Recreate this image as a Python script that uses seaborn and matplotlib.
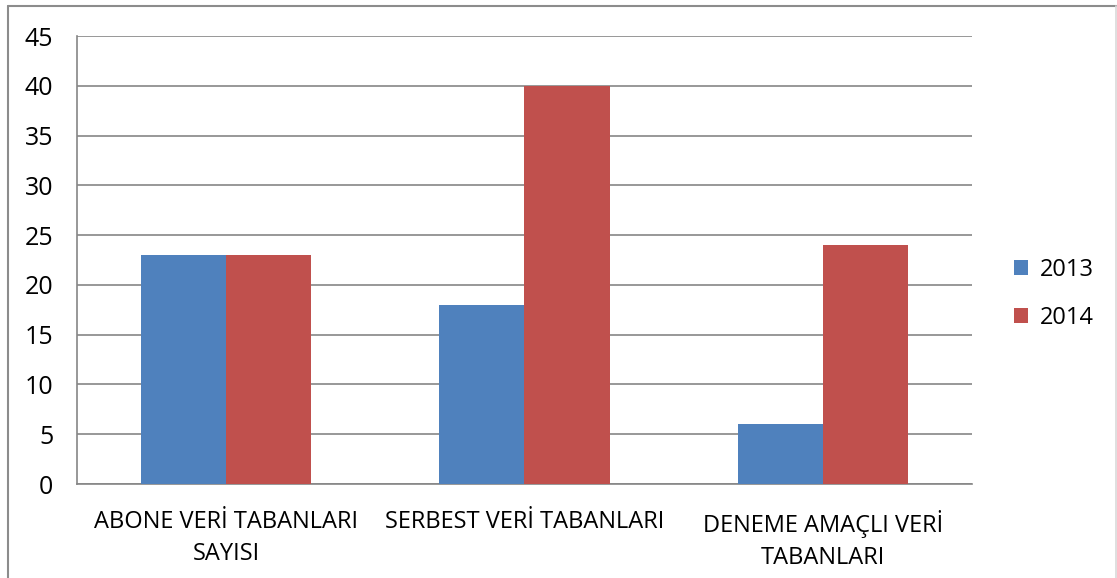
import pandas as pd
import matplotlib
matplotlib.use("Agg")
import matplotlib.pyplot as plt
import seaborn as sns
from matplotlib.lines import Line2D
from matplotlib.patches import Patch

# data
categories = ["ABONE VERİ TABANLARI\nSAYISI", "SERBEST VERİ TABANLARI", "DENEME AMAÇLI VERİ\nTABANLARI"]
years = ["2013", "2014"]
values_2013 = [23, 18, 6]
values_2014 = [23, 40, 24]
colors = ["#4F81BD", "#C0504D"]

df = pd.DataFrame({
    "kategori": categories * 2,
    "yil": [years[0]] * 3 + [years[1]] * 3,
    "deger": values_2013 + values_2014,
})

sns.set_style("white")
plt.rcParams["font.family"] = ["Open Sans", "DejaVu Sans"]
plt.rcParams["text.color"] = "black"
plt.rcParams["xtick.labelcolor"] = "black"
plt.rcParams["ytick.labelcolor"] = "black"

fig = plt.figure(figsize=(11.17, 5.78), dpi=100)
ax = fig.add_axes([0.0689, 0.1626, 0.8013, 0.7751])

sns.barplot(data=df, x="kategori", y="deger", hue="yil", palette=colors,
            width=0.57, saturation=1, linewidth=0, ax=ax, legend=False, zorder=3)

grid_c = "#868686"
ax.set_ylim(0, 45)
ax.set_yticks(range(0, 46, 5))
ax.set_xlim(-0.5, 2.5)
ax.yaxis.grid(True, color=grid_c, linewidth=1.2, zorder=0)
ax.set_axisbelow(True)
for s in ["top", "right"]:
    ax.spines[s].set_visible(False)
for s in ["left", "bottom"]:
    ax.spines[s].set_color(grid_c)
    ax.spines[s].set_linewidth(1.2)

# category boundary ticks like excel
ax.set_xticks([-0.5, 0.5, 1.5, 2.5], minor=True)
ax.set_xticks([0, 1, 2])
ax.set_xticklabels(categories, fontsize=17, linespacing=1.4)
ax.tick_params(axis="x", which="major", length=0, pad=19)
ax.tick_params(axis="x", which="minor", length=7, color=grid_c, width=1.2)
ax.tick_params(axis="y", length=8, color=grid_c, width=1.2, labelsize=18, pad=9)
ax.set_xlabel("")
ax.set_ylabel("")

handles = [Patch(facecolor=c, edgecolor="none") for c in colors]
fig.legend(handles, years, loc="upper left", bbox_to_anchor=(0.889, 0.59),
           frameon=False, fontsize=17, handlelength=0.6, handleheight=0.6,
           handletextpad=0.5, labelspacing=1.0)

# outer chart border
fig.add_artist(Line2D([8 / 1117, 8 / 1117], [0, 1 - 6 / 578], transform=fig.transFigure, color="#8c8c8c", lw=1.5))
fig.add_artist(Line2D([8 / 1117, 1], [1 - 6 / 578, 1 - 6 / 578], transform=fig.transFigure, color="#8c8c8c", lw=1.5))
fig.add_artist(Line2D([1116 / 1117, 1116 / 1117], [0, 1 - 6 / 578], transform=fig.transFigure, color="#d9d9d9", lw=1.2))

fig.savefig("out.png", dpi=100)
